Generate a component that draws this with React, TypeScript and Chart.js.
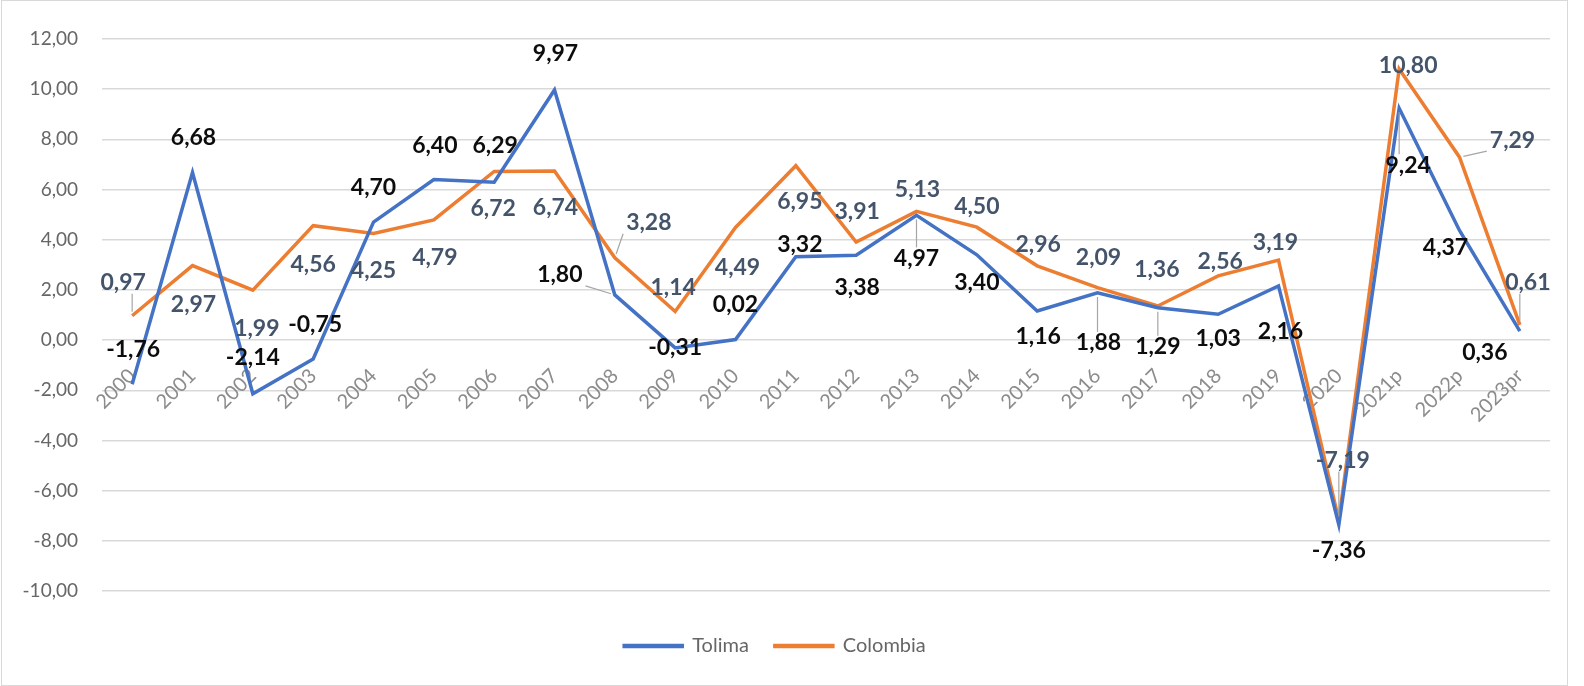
import React, { useEffect, useRef } from 'react';
import { Chart, registerables } from 'chart.js';

Chart.register(...registerables);

const categories = ['2000', '2001', '2002', '2003', '2004', '2005', '2006', '2007', '2008', '2009', '2010', '2011', '2012', '2013', '2014', '2015', '2016', '2017', '2018', '2019', '2020', '2021p', '2022p', '2023pr'];

const tolima = [-1.76, 6.68, -2.14, -0.75, 4.70, 6.40, 6.29, 9.97, 1.80, -0.31, 0.02, 3.32, 3.38, 4.97, 3.40, 1.16, 1.88, 1.29, 1.03, 2.16, -7.36, 9.24, 4.37, 0.36];

const colombia = [0.97, 2.97, 1.99, 4.56, 4.25, 4.79, 6.72, 6.74, 3.28, 1.14, 4.49, 6.95, 3.91, 5.13, 4.50, 2.96, 2.09, 1.36, 2.56, 3.19, -7.19, 10.80, 7.29, 0.61];

const yMin = -10;
const yMax = 12;
const yStep = 2;

// label placement offsets (px, relative to each point)
const tolimaLabelOffsets: [number, number][] = [
  [1, -35], [1, -35], [0, -36], [2, -34], [0, -35], [1, -34], [1, -37], [1, -36],
  [-55, -20], [0, 0], [0, -35], [4, -12], [1, 32], [0, 43], [0, 28], [1, 26],
  [1, 50], [0, 39], [0, 24], [2, 46], [0, 26], [9, 57], [-14, 17], [-35, 22],
];
const colombiaLabelOffsets: [number, number][] = [
  [-9, -33], [1, 39], [4, 38], [0, 39], [0, 37], [1, 38], [-1, 37], [1, 37],
  [34, -35], [-2, -24], [2, 40], [4, 36], [1, -30], [1, -22], [0, -21], [1, -21],
  [1, -30], [-1, -36], [2, -14], [-3, -17], [4, -60], [9, -4], [53, -17], [8, -42],
];
const tolimaLeaders = [8, 13, 16, 17, 21];
const colombiaLeaders = [0, 8, 20, 22, 23];

const FONT = 'Lato, "Open Sans", sans-serif';

const fmt = (v: number) => v.toFixed(2).replace('.', ',');

const labelPlugin = {
  id: 'valueLabels',
  afterDatasetsDraw(chart: any) {
    const ctx = chart.ctx as CanvasRenderingContext2D;
    const cfgs = [
      { offsets: tolimaLabelOffsets, leaders: tolimaLeaders, color: '#0d0d0d' },
      { offsets: colombiaLabelOffsets, leaders: colombiaLeaders, color: '#44546A' },
    ];
    ctx.save();
    ctx.font = `bold 23px ${FONT}`;
    ctx.textAlign = 'center';
    ctx.textBaseline = 'middle';
    chart.data.datasets.forEach((ds: any, di: number) => {
      const meta = chart.getDatasetMeta(di);
      const cfg = cfgs[di];
      meta.data.forEach((el: any, j: number) => {
        const v = ds.data[j];
        const [dx, dy] = cfg.offsets[j];
        const lx = el.x + dx;
        const ly = el.y + dy;
        const text = fmt(v);
        if (cfg.leaders.includes(j)) {
          const w = ctx.measureText(text).width;
          const h = 18;
          const nx = Math.min(Math.max(el.x, lx - w / 2 - 3), lx + w / 2 + 3);
          const ny = Math.min(Math.max(el.y, ly - h / 2 - 2), ly + h / 2 + 2);
          const len = Math.hypot(nx - el.x, ny - el.y);
          if (len > 6) {
            const ux = (nx - el.x) / len;
            const uy = (ny - el.y) / len;
            ctx.beginPath();
            ctx.strokeStyle = '#a6a6a6';
            ctx.lineWidth = 1.2;
            ctx.moveTo(el.x + ux * 4, el.y + uy * 4);
            ctx.lineTo(nx, ny);
            ctx.stroke();
          }
        }
        ctx.fillStyle = cfg.color;
        ctx.fillText(text, lx, ly);
      });
    });
    ctx.restore();
  },
};

export default function App() {
  const ref = useRef<HTMLCanvasElement | null>(null);
  useEffect(() => {
    if (!ref.current) return;
    const chart = new Chart(ref.current, {
      type: 'line',
      data: {
        labels: categories,
        datasets: [
          {
            label: 'Tolima',
            data: tolima,
            borderColor: '#4472C4',
            backgroundColor: '#4472C4',
            borderWidth: 3.5,
            pointRadius: 0,
            tension: 0,
          },
          {
            label: 'Colombia',
            data: colombia,
            borderColor: '#ED7D31',
            backgroundColor: '#ED7D31',
            borderWidth: 3.5,
            pointRadius: 0,
            tension: 0,
          },
        ],
      },
      options: {
        animation: false,
        responsive: false,
        maintainAspectRatio: false,
        layout: { padding: { top: 39, left: 0, right: 34, bottom: 20 } },
        scales: {
          x: {
            type: 'category',
            position: { y: 0 } as any,
            offset: true,
            grid: { display: false, drawTicks: false },
            border: { display: false },
            ticks: {
              autoSkip: false,
              maxRotation: 45,
              minRotation: 45,
              padding: 24,
              color: '#8c8c8c',
              font: { family: FONT, size: 20 },
            },
          },
          y: {
            min: yMin,
            max: yMax,
            grid: { color: '#d9d9d9', lineWidth: 1.5, drawTicks: false },
            border: { display: false },
            afterFit: (s: any) => { s.width = 102; },
            ticks: {
              stepSize: yStep,
              padding: 24,
              color: '#666666',
              font: { family: FONT, size: 19 },
              callback: (v: any) => fmt(Number(v)),
            },
          },
        },
        plugins: {
          tooltip: { enabled: false },
          legend: {
            position: 'bottom',
            title: { display: true, text: '', font: { size: 1 }, padding: { top: 17.8, bottom: 0 } },
            labels: {
              boxWidth: 58,
              boxHeight: 1,
              padding: 26,
              color: '#666666',
              font: { family: FONT, size: 20 },
            },
          },
        },
      },
      plugins: [labelPlugin],
    });
    return () => chart.destroy();
  }, []);
  return (
    <div style={{ position: 'absolute', left: 0, top: 0, width: 1584, height: 686, background: '#fff' }}>
      <div style={{ position: 'absolute', left: 1, top: 0, width: 1565, height: 684, border: '1px solid #d9d9d9' }} />
      <canvas ref={ref} width={1584} height={686} style={{ position: 'absolute', left: 0, top: 0 }} />
    </div>
  );
}
